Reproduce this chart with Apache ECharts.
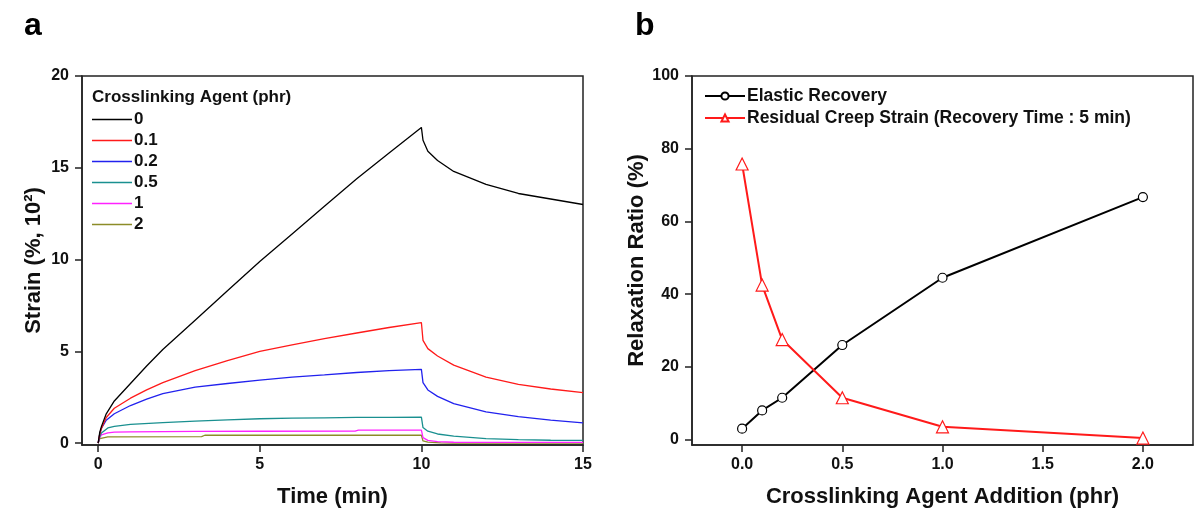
<!DOCTYPE html>
<html>
<head>
<meta charset="utf-8">
<script src="https://cdn.jsdelivr.net/npm/echarts@6/dist/echarts.min.js"></script>
<style>html,body{margin:0;padding:0;background:#fff}#c{width:1197px;height:508px}</style>
</head>
<body>
<div id="c"></div>
<script>
// ---- Panel a data: strain (%, 10^2) vs time (min) ----
const seriesNamesA = ['0', '0.1', '0.2', '0.5', '1', '2'];
const s0 = [[0,0],[0.05,0.6],[0.1,0.9],[0.25,1.6],[0.5,2.3],[1,3.25],[1.5,4.2],[2,5.1],[3,6.7],[4,8.3],[5,9.9],[6,11.4],[7,12.9],[8,14.4],[9,15.8],[10,17.2],[10.05,16.5],[10.2,15.9],[10.5,15.4],[11,14.8],[12,14.1],[13,13.6],[14,13.3],[15,13.0]];
const s01 = [[0,0],[0.05,0.5],[0.1,0.8],[0.25,1.4],[0.5,1.9],[1,2.45],[1.5,2.9],[2,3.3],[3,3.95],[4,4.5],[5,5.0],[6,5.35],[7,5.7],[8,6.0],[9,6.3],[10,6.57],[10.05,5.6],[10.2,5.15],[10.5,4.75],[11,4.25],[12,3.6],[13,3.2],[14,2.95],[15,2.75]];
const s02 = [[0,0],[0.05,0.5],[0.1,0.8],[0.25,1.25],[0.5,1.6],[1,2.05],[1.5,2.4],[2,2.7],[3,3.05],[4,3.25],[5,3.43],[6,3.6],[7,3.72],[8,3.85],[9,3.95],[10,4.02],[10.05,3.3],[10.2,2.9],[10.5,2.55],[11,2.15],[12,1.7],[13,1.45],[14,1.25],[15,1.1]];
const s05 = [[0,0],[0.05,0.35],[0.1,0.55],[0.3,0.83],[0.5,0.92],[1,1.02],[2,1.12],[3,1.2],[4,1.27],[5,1.33],[6,1.36],[7,1.38],[8,1.4],[9,1.41],[10,1.42],[10.05,0.85],[10.2,0.65],[10.5,0.5],[11,0.38],[12,0.25],[13,0.19],[14,0.16],[15,0.15]];
const s1 = [[0,0],[0.05,0.3],[0.1,0.45],[0.3,0.56],[0.5,0.6],[1,0.62],[3,0.64],[5,0.65],[7.95,0.66],[8.05,0.71],[10,0.71],[10.05,0.3],[10.2,0.15],[10.5,0.08],[11,0.05],[15,0.04]];
const s2 = [[0,0],[0.05,0.25],[0.1,0.3],[0.3,0.34],[3.2,0.36],[3.3,0.43],[10,0.43],[10.05,0.12],[10.2,0.06],[10.6,0.02],[11,0.0],[15,0.0]];
const ticksAx = [0, 5, 10, 15];
const ticksAy = [0, 5, 10, 15, 20];

// ---- Panel b data: relaxation ratio (%) vs crosslinking agent addition (phr) ----
const phr = [0, 0.1, 0.2, 0.5, 1.0, 2.0];
const elasticRecovery = [3, 8, 11.5, 26, 44.5, 66.7];
const residualCreep = [75.8, 42.5, 27.5, 11.5, 3.5, 0.4];
const ticksBx = [0, 0.5, 1.0, 1.5, 2.0];
const ticksBy = [0, 20, 40, 60, 80, 100];

const colorsA = ['#000000', '#ff1a1a', '#2222ee', '#1a9090', '#ff22ff', '#8c8c28'];
const dataA = [s0, s01, s02, s05, s1, s2];

const FONT = 'Liberation Sans';
const axisLineStyle = { color: '#222', width: 1.5 };
const tickLbl = { fontFamily: FONT, fontWeight: 'bold', fontSize: 16, color: '#111' };
const nameStyle = { fontFamily: FONT, fontWeight: 'bold', fontSize: 22, color: '#111' };

const chart = echarts.init(document.getElementById('c'), null, { renderer: 'canvas' });

const seriesA = seriesNamesA.map((n, i) => ({
  name: n, type: 'line', xAxisIndex: 0, yAxisIndex: 0,
  data: dataA[i], showSymbol: false, symbol: 'none', smooth: false,
  color: colorsA[i], lineStyle: { color: colorsA[i], width: 1.3 }, z: 10 - i
}));

const option = {
  animation: false,
  backgroundColor: '#fff',
  title: [
    { text: 'a', left: 19, top: 5, textStyle: { fontFamily: FONT, fontWeight: 'bold', fontSize: 32, color: '#000' } },
    { text: 'b', left: 630, top: 5, textStyle: { fontFamily: FONT, fontWeight: 'bold', fontSize: 32, color: '#000' } },
    { text: 'Crosslinking Agent (phr)', left: 87, top: 84, textStyle: { fontFamily: FONT, fontWeight: 'bold', fontSize: 17, color: '#111' } }
  ],
  grid: [
    { left: 82, top: 76, width: 501, height: 369, containLabel: false, outerBoundsMode: 'none',
      show: true, borderColor: '#222', borderWidth: 1.5, backgroundColor: 'transparent' },
    { left: 692, top: 76, width: 501, height: 369, containLabel: false, outerBoundsMode: 'none',
      show: true, borderColor: '#222', borderWidth: 1.5, backgroundColor: 'transparent' }
  ],
  legend: [
    { data: seriesNamesA, orient: 'vertical', left: 87, top: 106, itemWidth: 40, itemHeight: 14, itemGap: 4,
      textStyle: { fontFamily: FONT, fontWeight: 'bold', fontSize: 17, color: '#111', padding: [0,0,0,-3] }, icon: 'path://M0,6 L40,6 L40,7.3 L0,7.3 Z' },
    { data: ['Elastic Recovery', 'Residual Creep Strain (Recovery Time : 5 min)'], orient: 'vertical', left: 699, top: 82,
      itemWidth: 40, itemHeight: 9, itemGap: 4,
      textStyle: { fontFamily: FONT, fontWeight: 'bold', fontSize: 17.5, color: '#111', padding: [0,0,0,-3] } }
  ],
  xAxis: [
    { gridIndex: 0, type: 'value', min: -0.5, max: 15,
      name: 'Time (min)', nameLocation: 'middle', nameGap: 41, nameTextStyle: nameStyle,
      axisLine: { show: true, onZero: false, lineStyle: axisLineStyle }, splitLine: { show: false },
      axisTick: { show: true, customValues: ticksAx, length: 7, lineStyle: axisLineStyle },
      axisLabel: { customValues: ticksAx, margin: 12, ...tickLbl } },
    { gridIndex: 1, type: 'value', min: -0.25, max: 2.25,
      name: 'Crosslinking Agent Addition (phr)', nameLocation: 'middle', nameGap: 41, nameTextStyle: nameStyle,
      axisLine: { show: true, onZero: false, lineStyle: axisLineStyle }, splitLine: { show: false },
      axisTick: { show: true, customValues: ticksBx, length: 7, lineStyle: axisLineStyle },
      axisLabel: { customValues: ticksBx, margin: 12, formatter: v => v.toFixed(1), ...tickLbl } }
  ],
  yAxis: [
    { gridIndex: 0, type: 'value', min: -0.1, max: 20,
      name: 'Strain (%, 10²)', nameLocation: 'middle', nameGap: 37, nameTextStyle: nameStyle,
      axisLine: { show: true, onZero: false, lineStyle: axisLineStyle }, splitLine: { show: false },
      axisTick: { show: true, customValues: ticksAy, length: 7, lineStyle: axisLineStyle },
      axisLabel: { customValues: ticksAy, margin: 13, ...tickLbl } },
    { gridIndex: 1, type: 'value', min: -1.5, max: 100,
      name: 'Relaxation Ratio (%)', nameLocation: 'middle', nameGap: 38, nameTextStyle: nameStyle,
      axisLine: { show: true, onZero: false, lineStyle: axisLineStyle }, splitLine: { show: false },
      axisTick: { show: true, customValues: ticksBy, length: 7, lineStyle: axisLineStyle },
      axisLabel: { customValues: ticksBy, margin: 13, ...tickLbl } }
  ],
  series: seriesA.concat([
    { name: 'Elastic Recovery', type: 'line', xAxisIndex: 1, yAxisIndex: 1,
      data: phr.map((x, i) => [x, elasticRecovery[i]]),
      symbol: 'circle', symbolSize: 9, showSymbol: true, color: '#000',
      lineStyle: { color: '#000', width: 2 },
      itemStyle: { color: '#fff', borderColor: '#000', borderWidth: 1.2 }, z: 5 },
    { name: 'Residual Creep Strain (Recovery Time : 5 min)', type: 'line', xAxisIndex: 1, yAxisIndex: 1,
      data: phr.map((x, i) => [x, residualCreep[i]]),
      symbol: 'triangle', symbolSize: 12, showSymbol: true, color: '#ff1a1a',
      lineStyle: { color: '#ff1a1a', width: 2 },
      itemStyle: { color: '#fff', borderColor: '#ff1a1a', borderWidth: 1.2 }, z: 6 }
  ])
};
chart.setOption(option);
</script>
</body>
</html>
